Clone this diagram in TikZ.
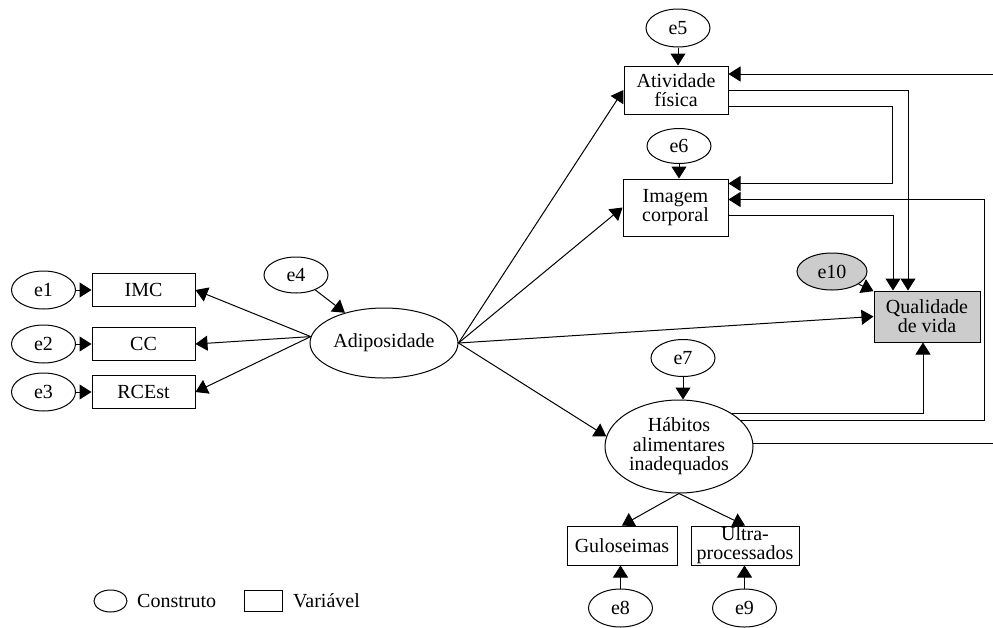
\documentclass[tikz,border=0pt]{standalone}
\usepackage{fontspec}
\setmainfont{Liberation Serif}
\usetikzlibrary{shapes.geometric}
\usetikzlibrary{arrows.meta}
\tikzset{construto/.style={draw,ellipse,inner sep=0pt,align=center,font=\fontsize{10}{9.7}\selectfont},
	erro/.style={construto,minimum width=32pt,minimum height=19pt},
	variavel/.style={draw,rectangle,inner sep=0pt,align=center,font=\fontsize{10}{9.5}\selectfont},
	cinza/.style={fill=gray!40}}

\begin{document}
\begin{tikzpicture}[x=0.5pt,y=-0.5pt]
		\clip (0,0) rectangle (993,628);
		\begin{scope}[line width=0.5pt]
			% construtos e variaveis
			\node[construto,minimum width=74pt,minimum height=35pt] (adip) at (384,343) {Adiposidade};
			\node[construto,minimum width=74pt,minimum height=46.5pt] (hab) at (679,446.5) {H\'abitos\\alimentares\\inadequados};
			\node[variavel,minimum width=51.5pt,minimum height=16.5pt] (imc) at (143.5,290) {IMC};
			\node[variavel,minimum width=51.5pt,minimum height=16.5pt] (cc) at (143.5,344) {CC};
			\node[variavel,minimum width=51.5pt,minimum height=16.5pt] (rcest) at (143.5,392) {RCEst};
			\node[variavel,minimum width=52pt,minimum height=24pt] (ativ) at (676,90) {Atividade\\f\'isica};
			\node[variavel,minimum width=52.5pt,minimum height=28.5pt] (imag) at (675.5,207.5) {Imagem\\corporal};
			\node[variavel,cinza,minimum width=53pt,minimum height=25.5pt] (qv) at (927,316.5) {Qualidade\\de vida};
			\node[variavel,minimum width=55pt,minimum height=19.5pt] (gul) at (622,545.5) {Guloseimas};
			\node[variavel,minimum width=54pt,minimum height=19.5pt] (ultra) at (745,545.5) {Ultra-\\processados};
			% erros
			\node[erro] (e1) at (43.5,290) {e1};
			\node[erro] (e2) at (43.5,344) {e2};
			\node[erro] (e3) at (43.5,392) {e3};
			\node[erro,minimum height=18pt] (e4) at (296,275) {e4};
			\node[erro] (e5) at (678,28) {e5};
			\node[erro,minimum height=17.5pt] (e6) at (679,146) {e6};
			\node[erro,minimum height=18.5pt] (e7) at (683,358) {e7};
			\node[erro] (e8) at (620.5,608) {e8};
			\node[erro] (e9) at (744.5,608) {e9};
			\node[erro,cinza,minimum width=35pt,minimum height=18.5pt] (e10) at (832,271.5) {e10};
			% legenda
			\node[construto,minimum width=16.5pt,minimum height=11pt] (legc) at (110.5,601) {};
			\node[anchor=west] (legct) at (130,601) {Construto};
			\node[variavel,minimum width=19pt,minimum height=10.5pt] (legv) at (263,600.5) {};
			\node[anchor=west] (legvt) at (286,601) {Vari\'avel};
		\end{scope}
		\begin{scope}[>={Triangle[length=6pt,width=7.5pt]},
			every edge/.style={draw,line width=0.5pt}]
			\path [->] (e1) edge (imc);
			\path [->] (e2) edge (cc);
			\path [->] (e3) edge (rcest);
			\path [->] (e4) edge (adip);
			\path [->] (adip.175) edge (imc.east);
			\path [->] (adip.175) edge (cc.east);
			\path [->] (adip.175) edge (rcest.east);
			\path [->] (adip.east) edge (ativ.west);
			\path [->] (adip.east) edge (imag.west);
			\path [->] (adip.east) edge (qv.west);
			\path [->] (adip.east) edge (hab.172);
			\path [->] (e5) edge (e5 |- ativ.north);
			\path [->] (e6) edge (e6 |- imag.north);
			\path [->] (e7) edge (e7 |- hab.north);
			\path [->] (e10) edge (qv);
			\path [->] (hab.south) edge (gul.north);
			\path [->] (hab.south) edge (ultra.north);
			\path [->] (e8) edge (e8 |- gul.south);
			\path [->] (e9) edge (e9 |- ultra.south);
			% ligacoes em angulo reto
			\path [->] (ativ.east) edge[to path={-| (\tikztotarget)}] ([xshift=-9.5pt]qv.north);
			\path [->] ([yshift=-8pt]ativ.east) edge[to path={-- ++(164,0) |- (\tikztotarget)}] ([yshift=12pt]imag.east);
			\path [->] ([yshift=-4pt]imag.east) edge[to path={-| (\tikztotarget)}] ([xshift=-17pt]qv.north);
			\path [->] (hab.north east) edge[to path={-| (\tikztotarget)}] ([xshift=-2pt]qv.south);
			\path [->] (hab.23) edge[to path={-- ++(244,0) |- (\tikztotarget)}] ([yshift=4pt]imag.east);
			\path [->] (hab.2) edge[to path={-- ++(260,0) |- (\tikztotarget)}] ([yshift=8pt]ativ.east);
		\end{scope}
	\end{tikzpicture}
\end{document}
